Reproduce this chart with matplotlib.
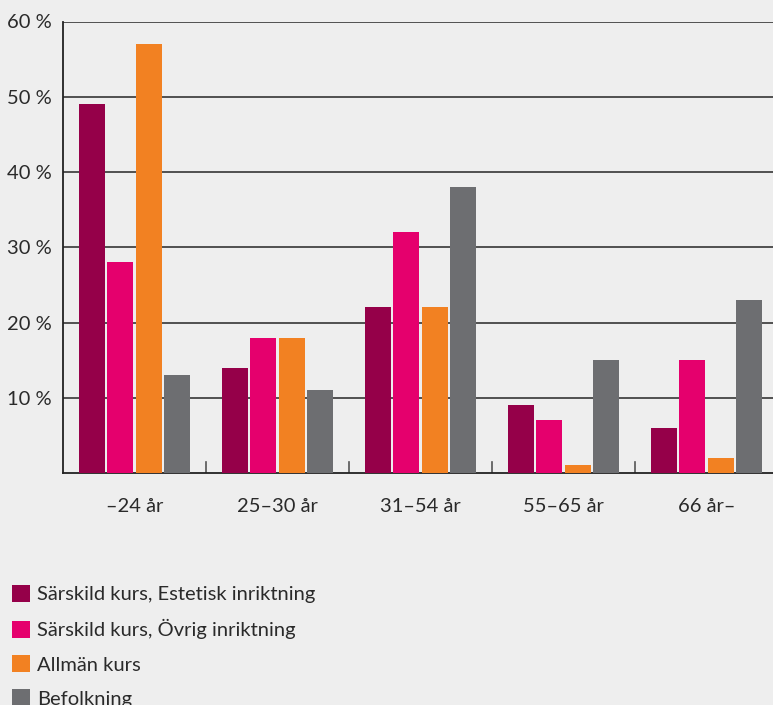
import matplotlib
matplotlib.use("Agg")
import matplotlib.pyplot as plt
from matplotlib.patches import Patch
import numpy as np

plt.rcParams['font.family'] = ['Lato', 'DejaVu Sans']

groups = ["\u201324 år", "25\u201330 år", "31\u201354 år", "55\u201365 år", "66 år\u2013"]
series = ["Särskild kurs, Estetisk inriktning", "Särskild kurs, Övrig inriktning",
          "Allmän kurs", "Befolkning"]
estetisk = [49, 14, 22, 9, 6]
ovrig = [28, 18, 32, 7, 15]
allman = [57, 18, 22, 1, 2]
befolkning = [13, 11, 38, 15, 23]
yticks = [10, 20, 30, 40, 50, 60]

colors = ["#950049", "#e5006d", "#f28122", "#6d6e71"]
bg = "#eeeeee"
fs = 14.5

fig = plt.figure(figsize=(7.73, 7.05), dpi=100, facecolor=bg)
ax = fig.add_axes([63/773, 1-473/705, 715/773, (473-21.5)/705])
ax.set_facecolor(bg)

x = np.arange(len(groups))
w = 0.182
step = 0.2
for i, (vals, c) in enumerate(zip([estetisk, ovrig, allman, befolkning], colors)):
    ax.bar(x + (i-1.5)*step, vals, width=w, color=c, zorder=3)

ax.set_xlim(-0.5, 4.5)
ax.set_ylim(0, 60)
ax.set_yticks(yticks)
ax.set_yticklabels([f"{v} %" for v in yticks], fontsize=fs, color="#2a2a2a")
ax.yaxis.grid(True, color="#444444", linewidth=1.3, zorder=0)
ax.set_xticks(x)
ax.set_xticklabels(groups, fontsize=fs, color="#2a2a2a")
ax.tick_params(axis="both", length=0)
ax.tick_params(axis="x", pad=18)
ax.tick_params(axis="y", pad=8)

# small separators between groups
for s in x[:-1] + 0.5:
    ax.plot([s, s], [0, 1.4], color="#555555", linewidth=1.2, zorder=2)

for side in ["top", "right"]:
    ax.spines[side].set_visible(False)
for side in ["left", "bottom"]:
    ax.spines[side].set_color("#222222")
    ax.spines[side].set_linewidth(1.3)

handles = [Patch(facecolor=c, edgecolor="none") for c in colors]
fig.legend(handles, series, loc="upper left", bbox_to_anchor=(12/773, 1-585/705),
           frameon=False, fontsize=fs, handlelength=0.9, handleheight=0.9,
           handletextpad=0.35, labelspacing=0.79, borderaxespad=0, borderpad=0,
           labelcolor="#2a2a2a")

fig.savefig("out.png", dpi=100, facecolor=bg)
